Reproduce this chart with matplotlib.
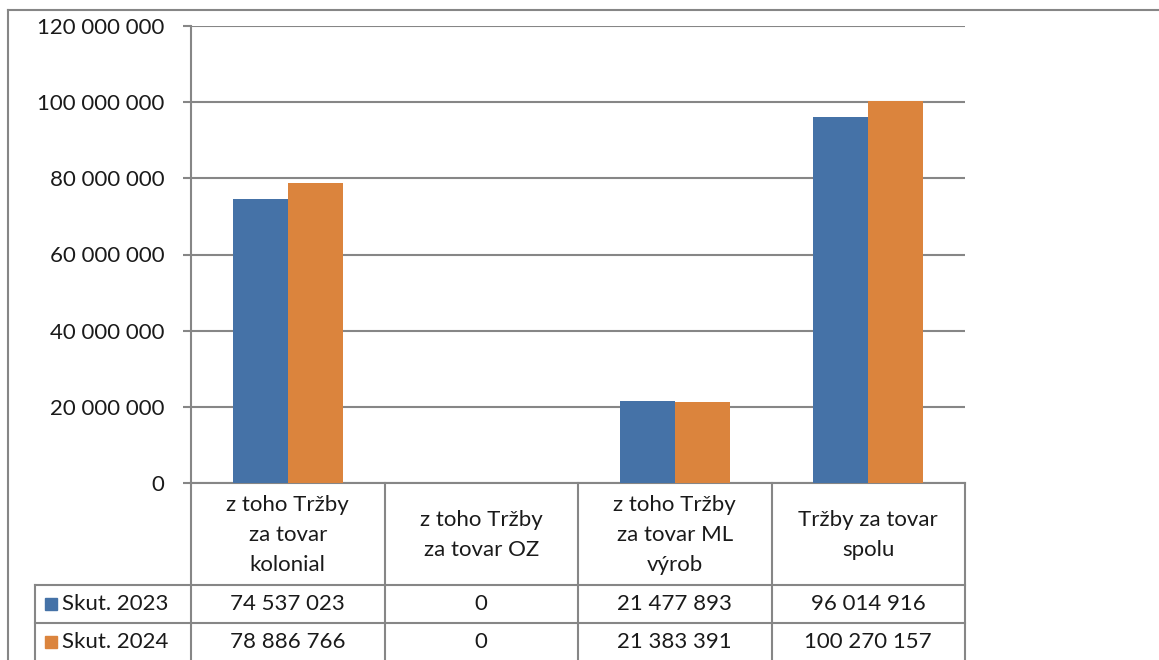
import matplotlib.pyplot as plt
from matplotlib.lines import Line2D
from matplotlib.patches import Rectangle
from matplotlib.ticker import FuncFormatter
import numpy as np

# data
categories = ["z toho Tržby\nza tovar\nkolonial", "z toho Tržby\nza tovar OZ",
              "z toho Tržby\nza tovar ML\nvýrob", "Tržby za tovar\nspolu"]
series_names = ["Skut. 2023", "Skut. 2024"]
skut_2023 = [74537023, 0, 21477893, 96014916]
skut_2024 = [78886766, 0, 21383391, 100270157]
colors = ["#4572A7", "#DB843D"]

plt.rcParams['font.family'] = ['Lato', 'DejaVu Sans']
fs = 16
grid_c = "#868686"
txt_c = "#1a1a1a"

W, H = 1159, 660
fig = plt.figure(figsize=(W / 100, H / 100), dpi=100)

# plot area in pixel coordinates
L, R, T, B = 191, 965, 26, 483
ax = fig.add_axes([L / W, (H - B) / H, (R - L) / W, (B - T) / H])

x = np.arange(len(categories))
bw = 0.285
ax.bar(x - bw / 2, skut_2023, bw, color=colors[0], zorder=3)
ax.bar(x + bw / 2, skut_2024, bw, color=colors[1], zorder=3)

ax.set_xlim(-0.5, len(categories) - 0.5)
ax.set_ylim(0, 120000000)
ax.set_yticks(np.arange(0, 120000001, 20000000))
ax.yaxis.set_major_formatter(FuncFormatter(lambda v, p: f"{int(v):,}".replace(",", " ")))
ax.set_xticks([])
ax.tick_params(axis='y', length=6, width=1.5, color=grid_c, pad=13, labelsize=fs, labelcolor=txt_c)
ax.grid(axis='y', color=grid_c, linewidth=1.5, zorder=0)
for s in ["top", "right"]:
    ax.spines[s].set_visible(False)
for s in ["left", "bottom"]:
    ax.spines[s].set_color(grid_c)
    ax.spines[s].set_linewidth(1.5)

# overlay in pixel coordinates for border and data table
ov = fig.add_axes([0, 0, 1, 1], zorder=5)
ov.set_xlim(0, W)
ov.set_ylim(H, 0)
ov.axis("off")

# chart area border (cropped at right and bottom)
ov.add_line(Line2D([8, W], [10, 10], color=grid_c, lw=1.5))
ov.add_line(Line2D([8, 8], [10, H], color=grid_c, lw=1.5))

# table grid
col_edges = np.linspace(L, R, len(categories) + 1)
row_y = [B, 585, 623]
row_cy = [604, 642]
leg_left = 35
for xe in col_edges:
    ov.add_line(Line2D([xe, xe], [B, H], color=grid_c, lw=1.5))
ov.add_line(Line2D([leg_left, leg_left], [row_y[1], H], color=grid_c, lw=1.5))
for ye in row_y[1:]:
    ov.add_line(Line2D([leg_left, R], [ye, ye], color=grid_c, lw=1.5))

# header row
for i, cat in enumerate(categories):
    cx = (col_edges[i] + col_edges[i + 1]) / 2
    ov.text(cx, (row_y[0] + row_y[1]) / 2 + 1, cat, ha="center", va="center",
            fontsize=fs, color=txt_c, linespacing=1.6)

# value rows
for r, (name, vals) in enumerate(zip(series_names, [skut_2023, skut_2024])):
    cy = row_cy[r]
    ov.add_patch(Rectangle((45, cy - 6), 12, 12, color=colors[r]))
    ov.text(62, cy, name, ha="left", va="center", fontsize=fs, color=txt_c)
    for i, v in enumerate(vals):
        cx = (col_edges[i] + col_edges[i + 1]) / 2
        ov.text(cx, cy, f"{v:,}".replace(",", " "), ha="center", va="center",
                fontsize=fs, color=txt_c)

fig.savefig("out.png", dpi=100)
